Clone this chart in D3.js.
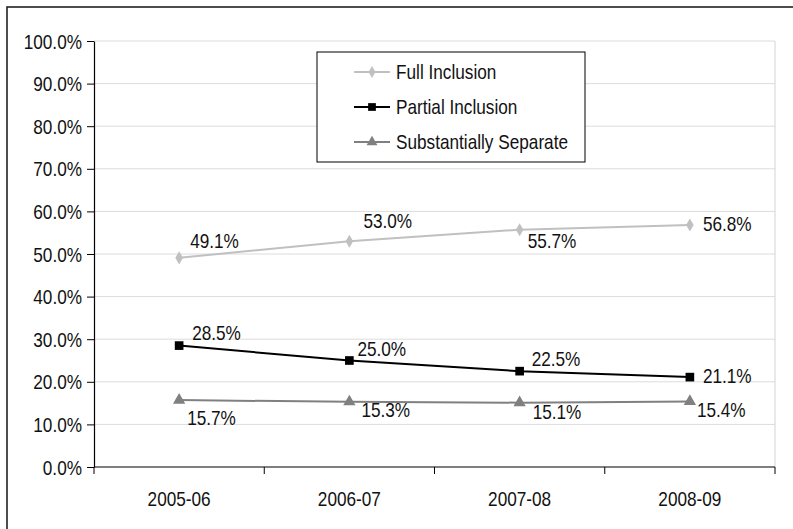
<!DOCTYPE html>
<html>
<head>
<meta charset="utf-8">
<script src="https://cdn.jsdelivr.net/npm/d3@7"></script>
<style>
  html, body { margin: 0; padding: 0; background: #fff; }
  svg { display: block; }
  text { font-family: "Liberation Sans", Arial, sans-serif; fill: #111; }
</style>
</head>
<body>
<svg id="chart" width="793" height="529"></svg>
<script>
// data
const years = ['2005-06', '2006-07', '2007-08', '2008-09'];
const fullInclusion = [49.1, 53.0, 55.7, 56.8];
const partialInclusion = [28.5, 25.0, 22.5, 21.1];
const substantiallySeparate = [15.7, 15.3, 15.1, 15.4];
const yTicks = [0, 10, 20, 30, 40, 50, 60, 70, 80, 90, 100];

// value label offsets [dx, dy] from each point
const labelOffsets = {
  full: [[11, -10], [14, -13], [8, 18], [13, 6]],
  partial: [[13, -6], [8, -5], [12, -5], [13, 6]],
  separate: [[8, 25], [12, 15], [13, 16], [7, 16]]
};

const series = [
  { key: 'full', name: 'Full Inclusion', values: fullInclusion, color: '#c0c0c0', marker: d3.symbolDiamond, size: 50 },
  { key: 'partial', name: 'Partial Inclusion', values: partialInclusion, color: '#000000', marker: d3.symbolSquare, size: 75 },
  { key: 'separate', name: 'Substantially Separate', values: substantiallySeparate, color: '#808080', marker: d3.symbolTriangle, size: 65 }
];

const svg = d3.select('#chart');
const width = 793, height = 529;
const margin = { top: 41, right: 18, bottom: 62, left: 94 };
const fs = 20;
const sx = 0.86; // squeeze to mimic a narrow face

// draw condensed text at (px, py)
function narrowText(sel, px, py) {
  sel.attr('x', 0).attr('y', 0)
    .attr('font-size', fs)
    .attr('transform', (d, i) => `translate(${typeof px === 'function' ? px(d, i) : px},${typeof py === 'function' ? py(d, i) : py}) scale(${sx},1)`);
  return sel;
}

// outer frame (runs off right/bottom edges like the source crop)
svg.append('rect')
  .attr('x', 7).attr('y', 7)
  .attr('width', width + 20).attr('height', height + 20)
  .attr('fill', 'none')
  .attr('stroke', '#222')
  .attr('stroke-width', 1.6);

const x = d3.scaleBand()
  .domain(years)
  .range([margin.left, width - margin.right]);

const y = d3.scaleLinear()
  .domain([0, 100])
  .range([height - margin.bottom, margin.top]);

// gridlines
svg.append('g')
  .selectAll('line')
  .data(yTicks.filter(d => d > 0))
  .join('line')
  .attr('x1', margin.left).attr('x2', width - margin.right)
  .attr('y1', d => y(d)).attr('y2', d => y(d))
  .attr('stroke', '#dcdcdc')
  .attr('stroke-width', 1);

// right border of plot area
svg.append('line')
  .attr('x1', width - margin.right).attr('x2', width - margin.right)
  .attr('y1', y(100)).attr('y2', y(0))
  .attr('stroke', '#d4d4d4');

// y axis
const yAxis = d3.axisLeft(y)
  .tickValues(yTicks)
  .tickSize(7)
  .tickSizeOuter(0)
  .tickPadding(5)
  .tickFormat(d => d.toFixed(1) + '%');

const yAxisG = svg.append('g')
  .attr('transform', `translate(${margin.left},0)`)
  .call(yAxis);
yAxisG.select('.domain').attr('stroke', '#000').attr('stroke-width', 1.2);
yAxisG.selectAll('.tick line').attr('stroke', '#000');
yAxisG.selectAll('.tick text')
  .attr('fill', '#111')
  .attr('font-family', null)
  .call(narrowText, -12, 0)
  .attr('dy', '0.35em');

// x axis, ticks at band boundaries
const xAxisG = svg.append('g')
  .attr('transform', `translate(0,${y(0)})`);
xAxisG.append('line')
  .attr('x1', margin.left).attr('x2', width - margin.right)
  .attr('stroke', '#000').attr('stroke-width', 1.2);
const bounds = years.map(d => x(d)).concat([x(years[years.length - 1]) + x.bandwidth()]);
xAxisG.selectAll('line.tk')
  .data(bounds)
  .join('line')
  .attr('class', 'tk')
  .attr('x1', d => d).attr('x2', d => d)
  .attr('y1', 0).attr('y2', 7)
  .attr('stroke', '#000');
xAxisG.selectAll('text')
  .data(years)
  .join('text')
  .call(narrowText, d => x(d) + x.bandwidth() / 2, 39)
  .attr('text-anchor', 'middle')
  .text(d => d);

const cx = d => x(d) + x.bandwidth() / 2;

const line = d3.line()
  .x((v, i) => cx(years[i]))
  .y(v => y(v));

series.forEach(s => {
  const g = svg.append('g');
  g.append('path')
    .datum(s.values)
    .attr('d', line)
    .attr('fill', 'none')
    .attr('stroke', s.color)
    .attr('stroke-width', 2);

  g.selectAll('path.mk')
    .data(s.values)
    .join('path')
    .attr('class', 'mk')
    .attr('d', d3.symbol().type(s.marker).size(s.size))
    .attr('transform', (v, i) => `translate(${cx(years[i])},${y(v)})`)
    .attr('fill', s.color);

  g.selectAll('text')
    .data(s.values)
    .join('text')
    .call(narrowText,
      (v, i) => cx(years[i]) + labelOffsets[s.key][i][0],
      (v, i) => y(v) + labelOffsets[s.key][i][1])
    .text(v => v.toFixed(1) + '%');
});

// legend
const legend = svg.append('g').attr('transform', 'translate(317,52)');
legend.append('rect')
  .attr('width', 268).attr('height', 110)
  .attr('fill', '#fff')
  .attr('stroke', '#000')
  .attr('stroke-width', 1);

const items = legend.selectAll('g.item')
  .data(series)
  .join('g')
  .attr('class', 'item')
  .attr('transform', (d, i) => `translate(0,${20 + i * 35})`);
items.append('line')
  .attr('x1', 37).attr('x2', 73)
  .attr('stroke', d => d.color)
  .attr('stroke-width', 2);
items.append('path')
  .attr('d', d => d3.symbol().type(d.marker).size(d.size * 0.8)())
  .attr('transform', 'translate(55,0)')
  .attr('fill', d => d.color);
items.append('text')
  .call(narrowText, 79, 7)
  .text(d => d.name);
</script>
</body>
</html>
